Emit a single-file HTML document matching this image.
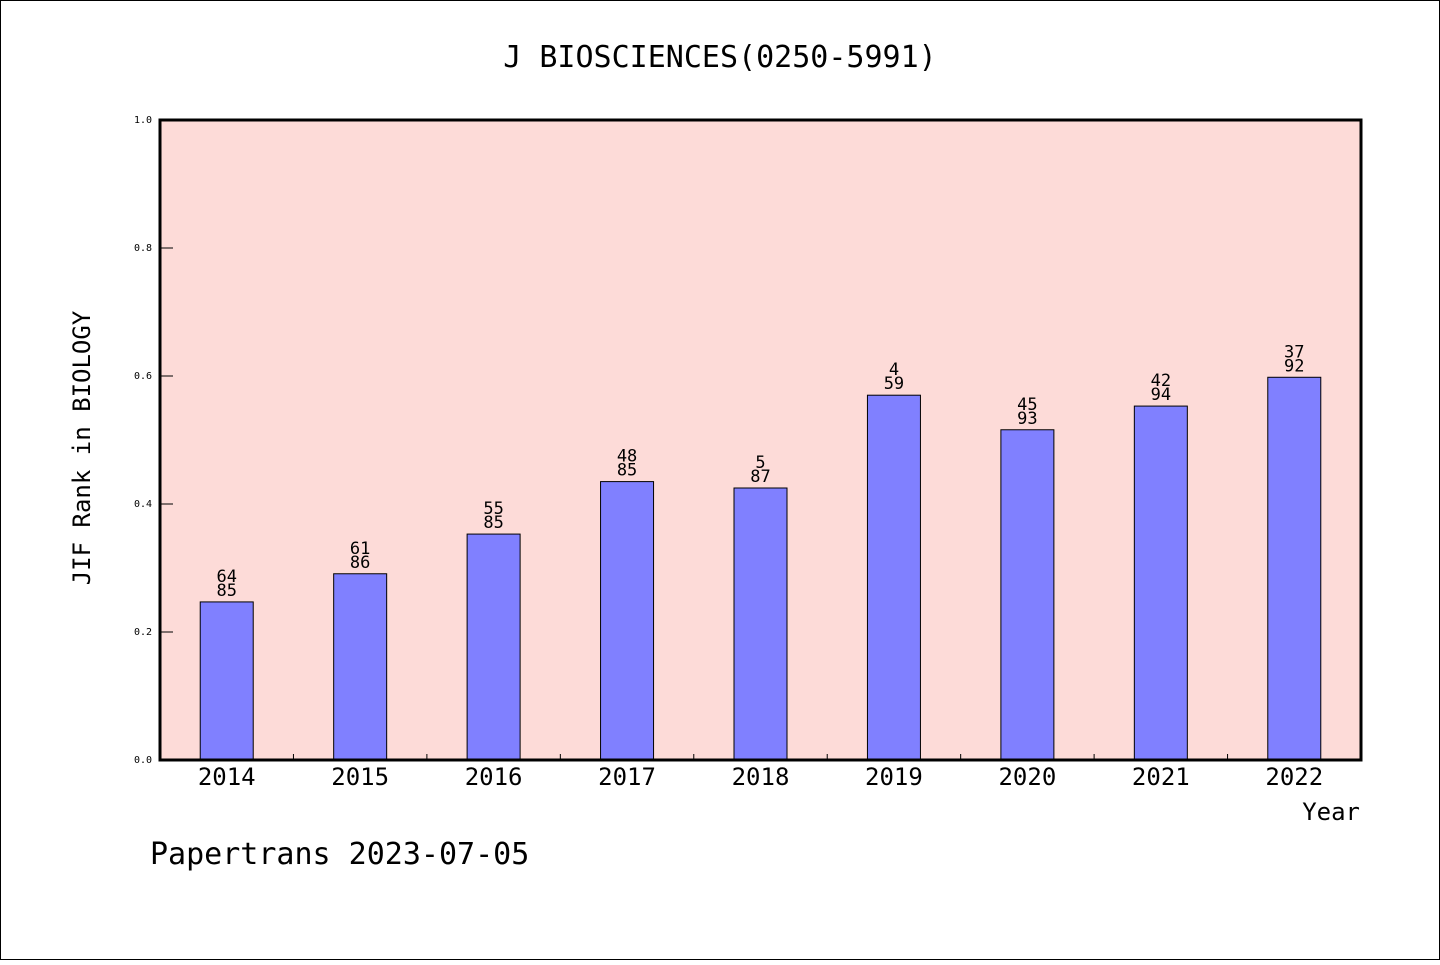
<!DOCTYPE html>
<html><head><meta charset="utf-8"><style>
body{margin:0;background:#fff}
svg text{font-family:"WenQuanYi Zen Hei Mono","WenQuanYi Zen Hei","DejaVu Sans Mono",monospace}
</style></head><body>
<svg id="c" width="1440" height="960" xmlns="http://www.w3.org/2000/svg">
<rect x="0.5" y="0.5" width="1439" height="959" fill="#fff" stroke="#000"/>
<text x="720" y="67" font-size="30" text-anchor="middle">J BIOSCIENCES(0250-5991)</text>
<rect x="160" y="120" width="1201" height="640" fill="#fddbd8"/>
<g id="g"></g>
<rect x="160" y="120" width="1201" height="640" fill="none" stroke="#000" stroke-width="3"/>
<text x="90" y="448" font-size="24" text-anchor="middle" transform="rotate(-90 90 448)">JIF Rank in BIOLOGY</text>
<text x="1360" y="820" font-size="24" text-anchor="end">Year</text>
<text x="150" y="864" font-size="30">Papertrans 2023-07-05</text>
</svg>
<script>
const years=["2014","2015","2016","2017","2018","2019","2020","2021","2022"];
const values=[0.247,0.291,0.353,0.435,0.425,0.570,0.516,0.553,0.598];
const ranks=["64","61","55","48","5","4","45","42","37"];
const totals=["85","86","85","85","87","59","93","94","92"];
const yTicks=[0,0.2,0.4,0.6,0.8,1.0];
const x0=160,x1=1361,yb=760,yt=120;
const slot=(x1-x0)/years.length;
const X=i=>x0+slot*(i+0.5);
const Y=v=>yb-(v)*(yb-yt);
const g=document.getElementById('g');
const NS="http://www.w3.org/2000/svg";
function mk(t,a){const e=document.createElementNS(NS,t);for(const k in a)e.setAttribute(k,a[k]);g.appendChild(e);return e;}
yTicks.forEach(v=>{
 const l=mk('line',{x1:x0,x2:x0+13,y1:Y(v),y2:Y(v),stroke:'#000','stroke-width':1});
 
 
 const t=mk('text',{x:x0-8,y:Y(v)+3,'font-size':10,'text-anchor':'end'});
 t.textContent=v.toFixed(1);
 
 
});
for(let i=1;i<years.length;i++){
 const l=mk('line',{x1:x0+slot*i,x2:x0+slot*i,y1:yb,y2:yb-6,stroke:'#000','stroke-width':1});
 
 
}
years.forEach((y,i)=>{
 const b=mk('rect',{x:X(i)-26.5,y:Y(values[i]),width:53,height:yb-Y(values[i]),fill:'#8080ff',stroke:'#000','stroke-width':1});
 
 
 const t1=mk('text',{x:X(i),y:Y(values[i])-20,'font-size':17,'text-anchor':'middle'});
 t1.textContent=ranks[i];
 
 
 const t2=mk('text',{x:X(i),y:Y(values[i])-6,'font-size':17,'text-anchor':'middle'});
 t2.textContent=totals[i];
 
 
 const xl=mk('text',{x:X(i),y:785,'font-size':24,'text-anchor':'middle'});
 xl.textContent=y;
 
 
});
</script>
</body></html>
